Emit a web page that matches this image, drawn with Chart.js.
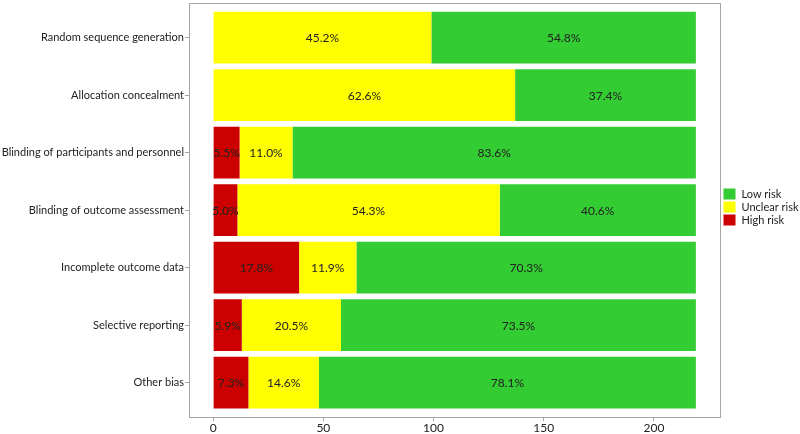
<!DOCTYPE html>
<html lang="en">
<head>
    <meta charset="UTF-8">
    <title>Risk of bias</title>
    <script src="https://cdn.jsdelivr.net/npm/chart.js@4.4.1/dist/chart.umd.min.js"></script>
    <style>
        html, body { margin: 0; padding: 0; background: #fff; }
        #wrap { width: 800px; height: 434px; }
    </style>
</head>
<body>
    <div id="wrap"><canvas id="biasChart"></canvas></div>

    <script>
        // number of studies per domain and judgement
        const domains = [
            "Random sequence generation",
            "Allocation concealment",
            "Blinding of participants and personnel",
            "Blinding of outcome assessment",
            "Incomplete outcome data",
            "Selective reporting",
            "Other bias"
        ];
        const highRisk = [0, 0, 12, 11, 39, 13, 16];
        const unclearRisk = [99, 137, 24, 119, 26, 45, 32];
        const lowRisk = [120, 82, 183, 89, 154, 161, 171];
        const xTicks = [0, 50, 100, 150, 200];

        const total = highRisk[0] + unclearRisk[0] + lowRisk[0];
        const FONT = "Lato";

        function toPoints(arr) {
            return arr.map((v, i) => ({ x: v, y: i }));
        }

        // percentage text inside every segment
        const segmentLabels = {
            id: 'segmentLabels',
            afterDatasetsDraw(chart) {
                const ctx = chart.ctx;
                ctx.save();
                ctx.font = "12px " + FONT;
                ctx.fillStyle = "#222";
                ctx.textAlign = "center";
                ctx.textBaseline = "middle";
                chart.data.datasets.forEach((ds, di) => {
                    const meta = chart.getDatasetMeta(di);
                    meta.data.forEach((bar, i) => {
                        const v = ds.data[i].x;
                        if (!v) return;
                        const p = bar.getCenterPoint();
                        ctx.fillText((v / total * 100).toFixed(1) + "%", p.x, p.y + 1);
                    });
                });
                ctx.restore();
            }
        };

        // grey panel border + legend on the right
        const panelAndLegend = {
            id: 'panelAndLegend',
            afterDraw(chart) {
                const ctx = chart.ctx;
                const a = chart.chartArea;
                ctx.save();
                ctx.strokeStyle = "#a6a6a6";
                ctx.lineWidth = 1;
                ctx.strokeRect(Math.round(a.left) + 0.5, Math.round(a.top) + 0.5,
                    Math.round(a.right - a.left), Math.round(a.bottom - a.top));

                const items = chart.data.datasets.slice().reverse();
                const x = a.right + 3.5;
                let y = (a.top + a.bottom) / 2 - 3 - 13;
                ctx.font = "11px " + FONT;
                ctx.textBaseline = "middle";
                ctx.textAlign = "left";
                items.forEach(ds => {
                    ctx.fillStyle = ds.backgroundColor;
                    ctx.fillRect(x, y - 5.5, 12, 11);
                    ctx.fillStyle = "#222";
                    ctx.fillText(ds.label, x + 18, y + 0.5);
                    y += 13;
                });
                ctx.restore();
            }
        };

        const ctx = document.getElementById("biasChart").getContext("2d");
        new Chart(ctx, {
            type: 'bar',
            data: {
                datasets: [
                    { label: 'High risk', data: toPoints(highRisk), backgroundColor: '#cc0000' },
                    { label: 'Unclear risk', data: toPoints(unclearRisk), backgroundColor: '#ffff00' },
                    { label: 'Low risk', data: toPoints(lowRisk), backgroundColor: '#33cc33' }
                ]
            },
            options: {
                indexAxis: 'y',
                responsive: true,
                maintainAspectRatio: false,
                animation: false,
                layout: { padding: { top: 3, right: 80, left: 0, bottom: 0 } },
                datasets: { bar: { barPercentage: 0.9, categoryPercentage: 1, borderWidth: 0 } },
                plugins: {
                    legend: { display: false },
                    tooltip: { enabled: false }
                },
                scales: {
                    x: {
                        type: 'linear',
                        stacked: true,
                        min: -10.95,
                        max: 229.95,
                        afterBuildTicks: s => { s.ticks = xTicks.map(v => ({ value: v })); },
                        afterFit: s => { s.height = 17; s.paddingLeft = 0; s.paddingRight = 0; },
                        grid: { drawOnChartArea: false, drawTicks: true, tickLength: 4, color: '#a6a6a6' },
                        border: { display: false },
                        ticks: { padding: 0, color: '#222', font: { family: FONT, size: 12 } }
                    },
                    y: {
                        type: 'linear',
                        stacked: true,
                        reverse: true,
                        offset: false,
                        min: -0.6,
                        max: 6.6,
                        afterBuildTicks: s => { s.ticks = domains.map((d, i) => ({ value: i })); },
                        afterFit: s => { s.width = 189; s.paddingTop = 0; s.paddingBottom = 0; },
                        grid: { offset: false, drawOnChartArea: false, drawTicks: true, tickLength: 4, color: '#a6a6a6' },
                        border: { display: false },
                        ticks: {
                            padding: 1,
                            color: '#222',
                            font: { family: FONT, size: 11 },
                            callback: v => domains[v]
                        }
                    }
                }
            },
            plugins: [segmentLabels, panelAndLegend]
        });
    </script>
</body>
</html>
